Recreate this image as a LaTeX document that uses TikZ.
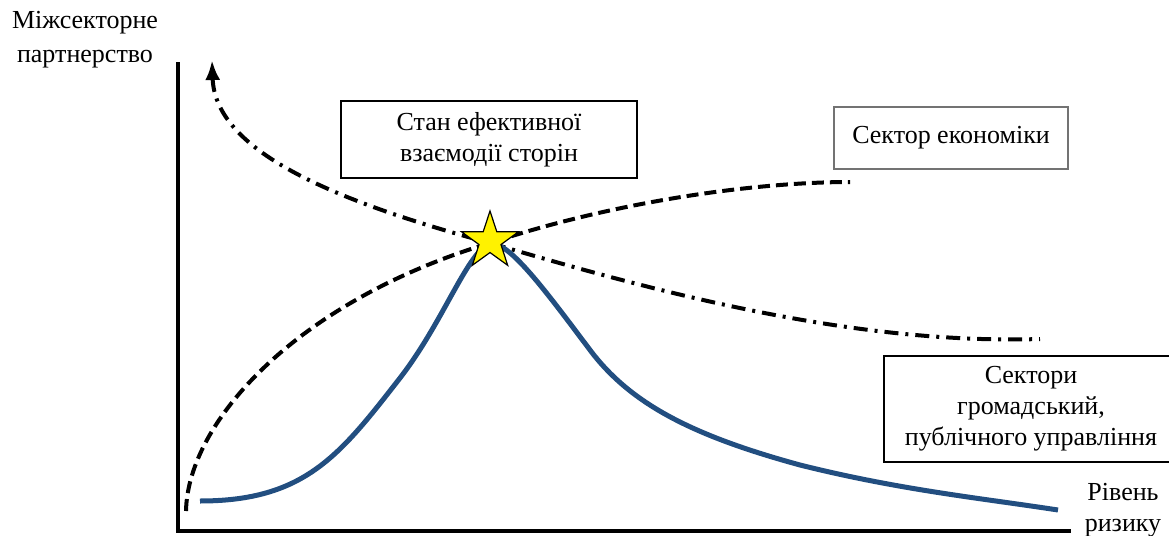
\documentclass[tikz,border=0pt]{standalone}
\usepackage{fontspec}
\setmainfont{Liberation Serif}
\usetikzlibrary{shapes.geometric,arrows.meta}
\definecolor{riskblue}{RGB}{34,78,128}

\begin{document}
\begin{tikzpicture}[x=0.5pt,y=-0.5pt,
    lbl/.style={align=center,inner sep=0pt,font=\fontsize{13}{15.5}\selectfont},
    sectorbox/.style={lbl,draw,line width=1.2pt}]
    \useasboundingbox (0,0) rectangle (1169,536);

    % axes
    \coordinate (ytop) at (178,62);
    \coordinate (orig) at (178,531);
    \coordinate (xend) at (1071,531);
    \draw[line width=2pt] (ytop) -- (orig) -- (xend);
    \node[lbl,font=\fontsize{13}{17}\selectfont] (ylab) at (85,40) {Міжсекторне\\партнерство};
    \node[lbl] (xlab) at (1123,510) {Рівень\\ризику};

    % boxes
    \node[sectorbox,minimum width=148pt,minimum height=38.5pt] (state) at (489,139.5) {Стан ефективної\\взаємодії сторін};
    \node[sectorbox,draw=black!55,minimum width=117pt,minimum height=31pt] (econ) at (951,138) {Сектор економіки};
    \node[sectorbox,line width=0.9pt,minimum width=147pt,minimum height=53pt] (civic) at (1031,409) {Сектори\\громадський,\\публічного управління};

    % curves
    \coordinate (top) at (212,60);
    \coordinate (meet) at (490,243);
    \draw[line width=2pt,dash pattern=on 7pt off 3.5pt on 1.5pt off 3.5pt,{Latex[length=10pt,width=7.5pt]}-]
        (top) .. controls (215,150) and (330,200) .. (meet) .. controls (650,290) and (850,345) .. (1040,339);
    \draw[line width=2pt,dash pattern=on 6pt off 3pt]
        (186,511) .. controls (188,420) and (300,300) .. (meet) .. controls (620,200) and (760,182) .. (850,182);
    \draw[line width=2.5pt,riskblue]
        (200,501) .. controls (305,501) and (340,455) .. (400,378) .. controls (445,320) and (470,245) .. (492,244)
        .. controls (510,243) and (545,290) .. (590,350) .. controls (630,403) and (690,435) .. (800,465)
        .. controls (900,490) and (980,498) .. (1058,510);

    \node[star,star points=5,star point ratio=2.6,fill=yellow,draw,line width=0.6pt,minimum size=30pt,inner sep=0pt] (best) at (490,241) {};
\end{tikzpicture}
\end{document}
